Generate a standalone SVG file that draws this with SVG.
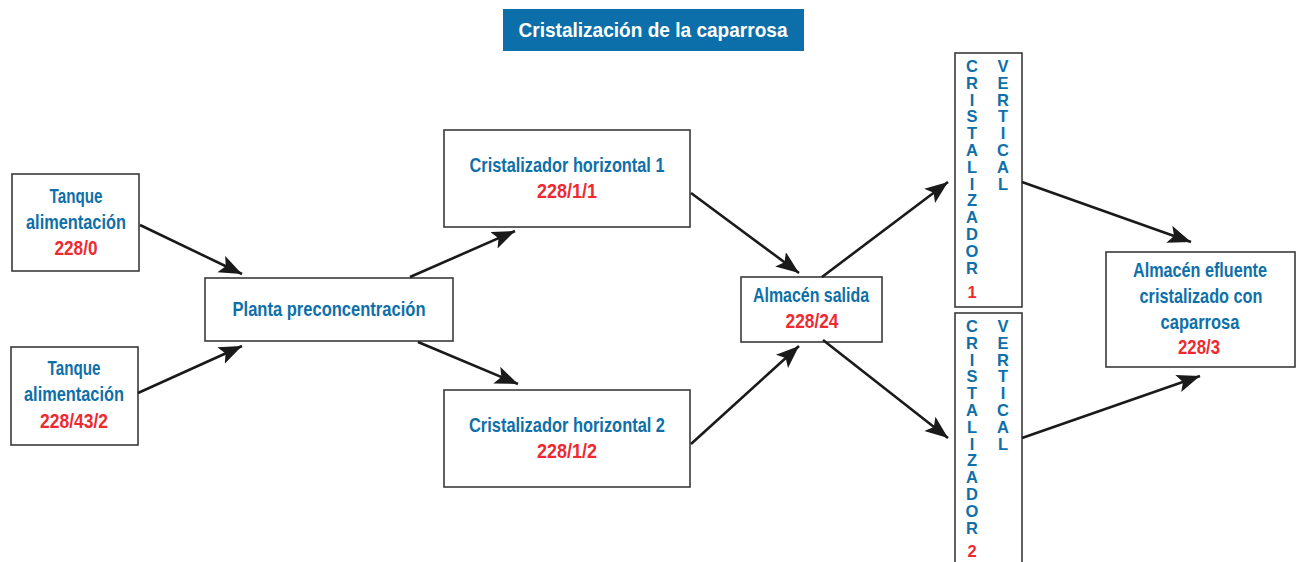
<svg xmlns="http://www.w3.org/2000/svg" width="1304" height="562" viewBox="0 0 1304 562">
<style>
.box{fill:#fff;stroke:#3a3a3a;stroke-width:1.6}
.t{font-family:"Liberation Sans Narrow","Liberation Sans",Arial,sans-serif;font-weight:bold;font-size:20.5px;text-anchor:middle}
.b{fill:#0e6fa9}
.r{fill:#ee2a30}
.v{font-family:"Liberation Sans Narrow","Liberation Sans",Arial,sans-serif;font-weight:bold;font-size:16.5px;text-anchor:middle}
.c{stroke:#1a1a1a;stroke-width:2.6;fill:none;marker-end:url(#ah)}
</style>
<defs>
<marker id="ah" markerUnits="userSpaceOnUse" markerWidth="26" markerHeight="20" refX="23" refY="9" orient="auto">
<path d="M0,0 L23,9 L0,18 L5,9 z" fill="#1a1a1a"/>
</marker>
</defs>
<rect width="1304" height="562" fill="#fff"/>
<g id="title">
<rect x="503" y="9" width="301" height="42" fill="#0c6fa9"/>
<text x="653" y="37" class="t" fill="#fff" font-size="22" textLength="269" lengthAdjust="spacingAndGlyphs">Cristalización de la caparrosa</text>
</g>
<g id="tanque1">
<rect class="box" x="12" y="174" width="127" height="97"/>
<text class="t b" x="76" y="203" textLength="53" lengthAdjust="spacingAndGlyphs">Tanque</text>
<text class="t b" x="76" y="229" textLength="100" lengthAdjust="spacingAndGlyphs">alimentación</text>
<text class="t r" x="76" y="255" textLength="43" lengthAdjust="spacingAndGlyphs">228/0</text>
</g>
<g id="tanque2">
<rect class="box" x="11" y="347" width="127" height="98"/>
<text class="t b" x="74" y="375" textLength="53" lengthAdjust="spacingAndGlyphs">Tanque</text>
<text class="t b" x="74" y="401" textLength="100" lengthAdjust="spacingAndGlyphs">alimentación</text>
<text class="t r" x="74" y="428" textLength="68" lengthAdjust="spacingAndGlyphs">228/43/2</text>
</g>
<g id="planta">
<rect class="box" x="205" y="278" width="248" height="63"/>
<text class="t b" x="329" y="316" textLength="193" lengthAdjust="spacingAndGlyphs">Planta preconcentración</text>
</g>
<g id="horizontal1">
<rect class="box" x="444" y="130" width="246" height="97"/>
<text class="t b" x="567" y="172" textLength="195" lengthAdjust="spacingAndGlyphs">Cristalizador horizontal 1</text>
<text class="t r" x="567" y="198" textLength="60" lengthAdjust="spacingAndGlyphs">228/1/1</text>
</g>
<g id="horizontal2">
<rect class="box" x="444" y="390" width="246" height="97"/>
<text class="t b" x="567" y="432" textLength="196" lengthAdjust="spacingAndGlyphs">Cristalizador horizontal 2</text>
<text class="t r" x="567" y="458" textLength="60" lengthAdjust="spacingAndGlyphs">228/1/2</text>
</g>
<g id="almacen-salida">
<rect class="box" x="741" y="277" width="141" height="65"/>
<text class="t b" x="811" y="302" textLength="116" lengthAdjust="spacingAndGlyphs">Almacén salida</text>
<text class="t r" x="812" y="328" textLength="53" lengthAdjust="spacingAndGlyphs">228/24</text>
</g>
<g id="vertical1">
<rect class="box" x="955" y="53" width="67" height="254"/>
<text class="v b"><tspan x="972" y="72">C</tspan><tspan x="972" dy="16.8">R</tspan><tspan x="972" dy="16.8">I</tspan><tspan x="972" dy="16.8">S</tspan><tspan x="972" dy="16.8">T</tspan><tspan x="972" dy="16.8">A</tspan><tspan x="972" dy="16.8">L</tspan><tspan x="972" dy="16.8">I</tspan><tspan x="972" dy="16.8">Z</tspan><tspan x="972" dy="16.8">A</tspan><tspan x="972" dy="16.8">D</tspan><tspan x="972" dy="16.8">O</tspan><tspan x="972" dy="16.8">R</tspan></text>
<text class="v r" x="972" y="298" font-size="18">1</text>
<text class="v b"><tspan x="1003" y="72">V</tspan><tspan x="1003" dy="16.8">E</tspan><tspan x="1003" dy="16.8">R</tspan><tspan x="1003" dy="16.8">T</tspan><tspan x="1003" dy="16.8">I</tspan><tspan x="1003" dy="16.8">C</tspan><tspan x="1003" dy="16.8">A</tspan><tspan x="1003" dy="16.8">L</tspan></text>
</g>
<g id="vertical2">
<rect class="box" x="955" y="313" width="67" height="260"/>
<text class="v b"><tspan x="972" y="332">C</tspan><tspan x="972" dy="16.8">R</tspan><tspan x="972" dy="16.8">I</tspan><tspan x="972" dy="16.8">S</tspan><tspan x="972" dy="16.8">T</tspan><tspan x="972" dy="16.8">A</tspan><tspan x="972" dy="16.8">L</tspan><tspan x="972" dy="16.8">I</tspan><tspan x="972" dy="16.8">Z</tspan><tspan x="972" dy="16.8">A</tspan><tspan x="972" dy="16.8">D</tspan><tspan x="972" dy="16.8">O</tspan><tspan x="972" dy="16.8">R</tspan></text>
<text class="v r" x="972" y="557" font-size="18">2</text>
<text class="v b"><tspan x="1003" y="332">V</tspan><tspan x="1003" dy="16.8">E</tspan><tspan x="1003" dy="16.8">R</tspan><tspan x="1003" dy="16.8">T</tspan><tspan x="1003" dy="16.8">I</tspan><tspan x="1003" dy="16.8">C</tspan><tspan x="1003" dy="16.8">A</tspan><tspan x="1003" dy="16.8">L</tspan></text>
</g>
<g id="almacen-efluente">
<rect class="box" x="1106" y="252" width="189" height="115"/>
<text class="t b" x="1200" y="277" textLength="134" lengthAdjust="spacingAndGlyphs">Almacén efluente</text>
<text class="t b" x="1201" y="303" textLength="123" lengthAdjust="spacingAndGlyphs">cristalizado con</text>
<text class="t b" x="1200" y="329" textLength="79" lengthAdjust="spacingAndGlyphs">caparrosa</text>
<text class="t r" x="1199" y="354" textLength="42" lengthAdjust="spacingAndGlyphs">228/3</text>
</g>
<g id="connectors">
<line class="c" x1="140" y1="225" x2="242" y2="274"/>
<line class="c" x1="138" y1="393" x2="242" y2="346"/>
<line class="c" x1="410" y1="277" x2="515" y2="231"/>
<line class="c" x1="418" y1="342" x2="518" y2="384"/>
<line class="c" x1="691" y1="193" x2="799" y2="273"/>
<line class="c" x1="691" y1="444" x2="799" y2="346"/>
<line class="c" x1="822" y1="277" x2="948" y2="182"/>
<line class="c" x1="823" y1="340" x2="948" y2="438"/>
<line class="c" x1="1022" y1="182" x2="1191" y2="242"/>
<line class="c" x1="1022" y1="438" x2="1200" y2="376"/>
</g>
</svg>
